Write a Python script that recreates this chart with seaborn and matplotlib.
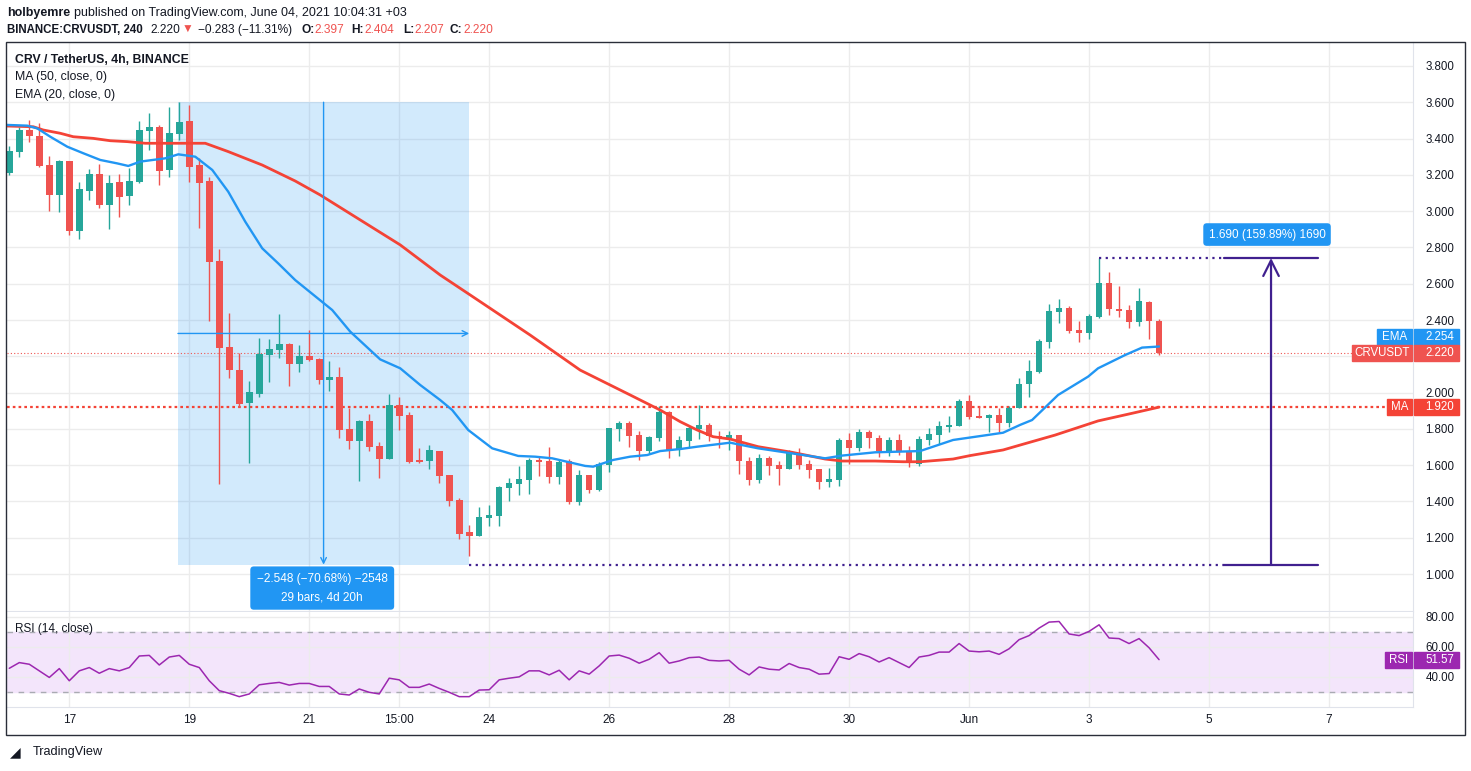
import numpy as np
import pandas as pd
import seaborn as sns
import matplotlib.pyplot as plt
from matplotlib.patches import Rectangle

sns.set_style("white")
plt.rcParams['font.family'] = ['Liberation Sans', 'DejaVu Sans']
plt.rcParams['text.color'] = '#131722'

# CRV/USDT 4h candles, bar 0 = 16 May 00:00
opens = [3.212, 3.328, 3.447, 3.414, 3.254, 3.089, 3.276, 2.891, 3.111, 3.205,
         3.034, 3.161, 3.085, 3.162, 3.443, 3.464, 3.229, 3.425, 3.497, 3.254,
         3.166, 2.725, 2.251, 2.124, 1.944, 1.992, 2.207, 2.235, 2.268, 2.157,
         2.201, 2.185, 2.069, 2.086, 1.799, 1.735, 1.843, 1.706, 1.634, 1.931,
         1.876, 1.628, 1.625, 1.678, 1.546, 1.408, 1.232, 1.212, 1.311, 1.322,
         1.476, 1.498, 1.520, 1.629, 1.623, 1.537, 1.623, 1.399, 1.546, 1.463,
         1.601, 1.801, 1.834, 1.767, 1.680, 1.748, 1.895, 1.684, 1.735, 1.801,
         1.822, 1.761, 1.748, 1.766, 1.623, 1.519, 1.642, 1.601, 1.579, 1.669,
         1.607, 1.579, 1.509, 1.519, 1.739, 1.697, 1.781, 1.752, 1.680, 1.739,
         1.678, 1.607, 1.739, 1.766, 1.809, 1.818, 1.954, 1.871, 1.858, 1.877,
         1.834, 1.913, 2.046, 2.115, 2.281, 2.446, 2.466, 2.343, 2.330, 2.419,
         2.602, 2.461, 2.455, 2.391, 2.499, 2.397]
highs = [3.359, 3.464, 3.502, 3.484, 3.304, 3.282, 3.276, 3.159, 3.232, 3.258,
         3.199, 3.205, 3.236, 3.497, 3.539, 3.475, 3.572, 3.600, 3.585, 3.291,
         3.190, 2.791, 2.437, 2.216, 2.064, 2.299, 2.295, 2.433, 2.271, 2.262,
         2.345, 2.189, 2.174, 2.143, 1.917, 1.849, 1.882, 1.728, 1.992, 1.976,
         1.895, 1.696, 1.711, 1.678, 1.546, 1.417, 1.270, 1.371, 1.381, 1.485,
         1.529, 1.596, 1.638, 1.643, 1.700, 1.629, 1.634, 1.573, 1.546, 1.619,
         1.807, 1.845, 1.845, 1.789, 1.763, 1.926, 1.899, 1.763, 1.816, 1.932,
         1.831, 1.789, 1.789, 1.766, 1.643, 1.660, 1.651, 1.623, 1.684, 1.697,
         1.629, 1.579, 1.586, 1.748, 1.776, 1.798, 1.794, 1.766, 1.757, 1.772,
         1.706, 1.761, 1.807, 1.844, 1.871, 1.965, 1.987, 1.926, 1.880, 1.913,
         1.926, 2.079, 2.180, 2.294, 2.488, 2.516, 2.477, 2.395, 2.431, 2.742,
         2.667, 2.588, 2.483, 2.578, 2.505, 2.404]
lows = [3.199, 3.296, 3.383, 3.245, 3.001, 2.993, 2.868, 2.846, 3.061, 3.019,
        2.902, 2.969, 3.034, 3.153, 3.337, 3.144, 3.190, 3.392, 3.162, 2.905,
        2.396, 1.494, 2.079, 1.922, 1.614, 1.978, 2.060, 2.192, 2.038, 2.115,
        2.176, 2.047, 2.009, 1.751, 1.689, 1.514, 1.680, 1.531, 1.634, 1.794,
        1.614, 1.614, 1.579, 1.503, 1.377, 1.193, 1.100, 1.212, 1.267, 1.267,
        1.404, 1.436, 1.443, 1.542, 1.504, 1.498, 1.388, 1.382, 1.449, 1.458,
        1.564, 1.735, 1.702, 1.629, 1.660, 1.735, 1.642, 1.653, 1.702, 1.743,
        1.735, 1.693, 1.684, 1.552, 1.491, 1.504, 1.546, 1.491, 1.579, 1.579,
        1.531, 1.469, 1.482, 1.487, 1.607, 1.680, 1.697, 1.647, 1.653, 1.656,
        1.592, 1.597, 1.711, 1.717, 1.785, 1.818, 1.853, 1.858, 1.781, 1.781,
        1.812, 1.913, 1.978, 2.106, 2.248, 2.385, 2.330, 2.281, 2.294, 2.413,
        2.428, 2.419, 2.358, 2.367, 2.294, 2.207]
closes = [3.331, 3.447, 3.416, 3.249, 3.089, 3.276, 2.891, 3.120, 3.205, 3.034,
          3.155, 3.078, 3.166, 3.447, 3.464, 3.221, 3.429, 3.489, 3.245, 3.157,
          2.722, 2.248, 2.124, 1.937, 2.005, 2.213, 2.240, 2.268, 2.158, 2.201,
          2.179, 2.069, 2.086, 1.794, 1.735, 1.843, 1.702, 1.634, 1.931, 1.871,
          1.619, 1.617, 1.683, 1.542, 1.404, 1.221, 1.212, 1.314, 1.326, 1.480,
          1.502, 1.524, 1.629, 1.619, 1.537, 1.618, 1.399, 1.546, 1.463, 1.605,
          1.807, 1.834, 1.763, 1.680, 1.757, 1.891, 1.684, 1.739, 1.807, 1.822,
          1.763, 1.748, 1.767, 1.625, 1.519, 1.642, 1.596, 1.579, 1.678, 1.601,
          1.574, 1.509, 1.524, 1.739, 1.697, 1.781, 1.748, 1.680, 1.739, 1.671,
          1.610, 1.744, 1.772, 1.816, 1.822, 1.954, 1.867, 1.862, 1.877, 1.834,
          1.913, 2.046, 2.119, 2.284, 2.450, 2.466, 2.340, 2.330, 2.422, 2.602,
          2.459, 2.452, 2.391, 2.505, 2.397, 2.220]

rsi_vals = [45.8, 49.6, 48.5, 44.1, 39.7, 45.6, 37.5, 44.1, 46.3, 42.5,
            45.6, 44.1, 46.3, 54.0, 54.4, 48.0, 53.3, 54.4, 48.5, 46.3,
            37.5, 30.9, 29.1, 26.9, 28.7, 34.8, 35.7, 36.4, 34.6, 35.7,
            35.7, 33.7, 33.7, 28.7, 28.0, 32.0, 29.8, 28.7, 39.2, 38.1,
            33.1, 33.1, 35.3, 32.4, 29.8, 26.9, 26.9, 31.3, 31.5, 38.1,
            39.2, 40.1, 44.1, 44.1, 41.4, 44.5, 38.1, 44.1, 41.9, 47.4,
            54.0, 54.6, 52.5, 49.2, 51.8, 56.2, 49.2, 50.7, 52.9, 53.3,
            51.1, 50.7, 51.1, 45.2, 41.4, 46.7, 45.2, 44.7, 49.0, 46.3,
            45.2, 41.9, 42.3, 53.5, 51.8, 55.6, 53.5, 50.0, 52.9, 49.6,
            46.3, 53.3, 54.4, 56.6, 56.6, 62.3, 57.3, 56.8, 57.3, 55.1,
            58.8, 64.9, 67.6, 72.6, 76.6, 77.0, 68.7, 67.6, 70.4, 74.8,
            66.0, 65.6, 62.3, 65.6, 59.5, 51.57]

# MA(50) and EMA(20) at bar positions
ma_idx = [-0.23, 2.4, 3.4, 5.1, 6.4, 8.4, 10.1, 11.8, 13.6, 16.6, 19.6, 21.9, 23.6,
          25.3, 28.6, 31.1, 39.1, 43.1, 46.1, 52.1, 57.1, 62.1, 65.1, 67.1, 68.8,
          70.4, 72.1, 74.9, 78.3, 81.6, 83.3, 86.6, 89.4, 91.1, 94.4, 96.1, 99.4,
          101.1, 104.6, 108.9, 112.3, 115]
ma_vals = [3.469, 3.465, 3.447, 3.429, 3.410, 3.401, 3.388, 3.383, 3.374, 3.374,
           3.374, 3.328, 3.291, 3.254, 3.166, 3.089, 2.814, 2.648, 2.538, 2.317,
           2.124, 1.987, 1.904, 1.840, 1.794, 1.757, 1.744, 1.702, 1.671, 1.634,
           1.623, 1.623, 1.619, 1.619, 1.634, 1.653, 1.684, 1.711, 1.766, 1.844,
           1.886, 1.920]
ema_idx = [-0.23, 1.8, 2.8, 4.1, 5.8, 7.4, 9.1, 10.8, 11.9, 13.1, 15.6, 16.9, 18.6,
           20.3, 21.9, 23.6, 25.3, 26.9, 28.6, 32.3, 34.1, 37.1, 39.1, 41.1, 43.1,
           44.3, 45.9, 48.3, 50.9, 52.6, 54.3, 57.6, 58.4, 60.4, 62.1, 63.8, 65.1,
           67.1, 68.8, 72.1, 74.9, 78.3, 81.6, 83.3, 86.6, 91.1, 94.4, 97.8, 99.4,
           101.1, 102.3, 104.9, 107.9, 108.9, 111.6, 113.3, 115]
ema_vals = [3.475, 3.471, 3.456, 3.410, 3.355, 3.319, 3.282, 3.263, 3.249, 3.273,
            3.291, 3.313, 3.300, 3.227, 3.107, 2.942, 2.795, 2.712, 2.620, 2.455,
            2.336, 2.183, 2.134, 2.042, 1.959, 1.904, 1.794, 1.693, 1.651, 1.647,
            1.638, 1.596, 1.592, 1.629, 1.647, 1.656, 1.678, 1.689, 1.702, 1.724,
            1.693, 1.665, 1.638, 1.653, 1.671, 1.678, 1.739, 1.766, 1.779, 1.822,
            1.849, 1.987, 2.088, 2.134, 2.207, 2.248, 2.254]

tick_pos = [6, 18, 30, 39, 48, 60, 72, 84, 96, 108, 120, 132]
tick_labels = ['17', '19', '21', '15:00', '24', '26', '28', '30', 'Jun', '3', '5', '7']
price_ticks = np.arange(1.0, 3.81, 0.2)

# drawing tools on the chart
meas_start, meas_end = 16.87, 46
meas_top, meas_bottom = 3.600, 1.052
range_top = 2.742

df = pd.DataFrame({'open': opens, 'high': highs, 'low': lows, 'close': closes})
df['bar'] = np.arange(len(df))
green, red = '#26a69a', '#ef5350'
df['color'] = np.where(df['close'] >= df['open'], green, red)

W, H = 1471, 771
fig = plt.figure(figsize=(W / 100, H / 100), dpi=100)
ax = fig.add_axes([7 / W, 1 - 611 / H, 1406 / W, 569 / H])
ax_rsi = fig.add_axes([7 / W, 1 - 707 / H, 1406 / W, 95 / H], sharex=ax)


def fx(p):
    return (p - 7) / 1406


# candles
ax.vlines(df['bar'], df['low'], df['high'], colors=df['color'], lw=1, zorder=3)
body = (df['close'] - df['open']).abs().clip(lower=0.006)
ax.bar(df['bar'], body, bottom=df[['open', 'close']].min(axis=1), width=0.66,
       color=df['color'], linewidth=0, zorder=4)

sns.lineplot(x=ma_idx, y=ma_vals, ax=ax, color='#f44336', lw=2, zorder=5)
sns.lineplot(x=ema_idx, y=ema_vals, ax=ax, color='#2196f3', lw=1.7, zorder=5)

ax.axhline(closes[-1], color=red, lw=0.8, ls=(0, (1, 2)), zorder=2)
ax.axhline(ma_vals[-1], color='#f44336', lw=1.6, ls=(0, (1.2, 1.4)), zorder=2)

# measure box
ax.add_patch(Rectangle((meas_start, meas_bottom), meas_end - meas_start, meas_top - meas_bottom,
                       fc='#2196f3', alpha=0.2, ec='none', zorder=1))
mid_x = (meas_start + meas_end) / 2
mid_y = (meas_top + meas_bottom) / 2
ax.annotate('', xy=(mid_x, meas_bottom), xytext=(mid_x, meas_top),
            arrowprops=dict(arrowstyle='->', color='#2196f3', lw=1, shrinkA=0, shrinkB=0), zorder=6)
ax.annotate('', xy=(meas_end, mid_y), xytext=(meas_start, mid_y),
            arrowprops=dict(arrowstyle='->', color='#2196f3', lw=1, shrinkA=0, shrinkB=0), zorder=6)
ax.text(31.3, 0.923, '\u22122.548 (\u221270.68%) \u22122548\n29 bars, 4d 20h', ha='center', va='center',
        color='white', fontsize=8.5, linespacing=1.7, zorder=7,
        bbox=dict(boxstyle='round,pad=0.55,rounding_size=0.3', fc='#2196f3', ec='none'))

# price range tool
purple = '#40208f'
ax.plot([meas_end, 121.5], [meas_bottom, meas_bottom], color=purple, lw=1.6, ls=(0, (1, 2)), zorder=6)
ax.plot([109, 121.5], [range_top, range_top], color=purple, lw=1.6, ls=(0, (1, 2)), zorder=6)
ax.plot([121.5, 130.9], [range_top, range_top], color=purple, lw=1.6, zorder=6)
ax.plot([121.5, 130.9], [meas_bottom, meas_bottom], color=purple, lw=1.6, zorder=6)
ax.annotate('', xy=(126.2, range_top), xytext=(126.2, meas_bottom),
            arrowprops=dict(arrowstyle='->', color=purple, lw=1.6, mutation_scale=28,
                            shrinkA=0, shrinkB=0), zorder=6)
ax.text(125.8, 2.871, '1.690 (159.89%) 1690', ha='center', va='center', color='white',
        fontsize=8.5, zorder=7,
        bbox=dict(boxstyle='round,pad=0.45,rounding_size=0.3', fc='#2196f3', ec='none'))

# axes styling
grid_c = '#ececec'
for a in (ax, ax_rsi):
    a.grid(True, color=grid_c, lw=1)
    a.yaxis.tick_right()
    a.tick_params(axis='y', length=0, pad=9, labelsize=8.3, labelcolor='#131722')
    a.set_xlabel('')
    a.set_ylabel('')
    for s in ('top', 'left'):
        a.spines[s].set_visible(False)
    for s in ('right', 'bottom'):
        a.spines[s].set_color('#e0e3eb')

ax.set_xlim(-0.23, 140.4)
ax.set_ylim(0.7966, 3.932)
ax.set_yticks(price_ticks)
# the 2.200 label sits under the last-price tag, as on the original
ax.set_yticklabels(['' if abs(v - closes[-1]) < 0.05 else f'{v:.3f}' for v in price_ticks])
ax.set_xticks(tick_pos)
ax.tick_params(axis='x', length=0, labelbottom=False)

ax.text(fx(15), 0.968, 'CRV / TetherUS, 4h, BINANCE', transform=ax.transAxes, fontsize=8.8,
        fontweight='bold', va='center')
ax.text(fx(15), 0.939, 'MA (50, close, 0)', transform=ax.transAxes, fontsize=8.8, va='center')
ax.text(fx(15), 0.907, 'EMA (20, close, 0)', transform=ax.transAxes, fontsize=8.8, va='center')

# RSI panel
ax_rsi.axhspan(30, 70, color='#f3e5fb', zorder=0)
for lvl in (30, 70):
    ax_rsi.axhline(lvl, color='#a9abb2', lw=1, ls=(0, (4, 4)), zorder=1)
sns.lineplot(x=df['bar'], y=rsi_vals, ax=ax_rsi, color='#9c27b0', lw=1.1, zorder=3)
ax_rsi.set_ylim(20, 83.33)
ax_rsi.set_yticks([40, 60, 80])
ax_rsi.set_yticklabels(['40.00', '60.00', '80.00'])
ax_rsi.set_xticks(tick_pos)
ax_rsi.set_xticklabels(tick_labels)
ax_rsi.tick_params(axis='x', length=0, pad=5, labelsize=8.5, labelcolor='#131722')
ax_rsi.set_xlabel('')
ax_rsi.set_ylabel('')
ax_rsi.text(fx(15), 0.821, 'RSI (14, close)', transform=ax_rsi.transAxes, fontsize=8.5, va='center')


def price_tag(axis, y, name, value, color, name_left, h):
    tr = axis.get_yaxis_transform()
    axis.add_patch(Rectangle((fx(name_left), y - h / 2), fx(1412) - fx(name_left), h,
                             transform=tr, color=color, clip_on=False, zorder=8))
    axis.add_patch(Rectangle((fx(1414), y - h / 2), fx(1459) - fx(1414), h,
                             transform=tr, color=color, clip_on=False, zorder=8))
    axis.text(fx((name_left + 1412) / 2), y, name, ha='center', va='center', color='white',
              fontsize=8.3, transform=tr, clip_on=False, zorder=9)
    axis.text(fx(1425), y, value, ha='left', va='center', color='white',
              fontsize=8.3, transform=tr, clip_on=False, zorder=9)


price_tag(ax, ema_vals[-1] + 0.052, 'EMA', f'{ema_vals[-1]:.3f}', '#2196f3', 1377, 0.088)
price_tag(ax, closes[-1], 'CRVUSDT', f'{closes[-1]:.3f}', red, 1352, 0.088)
price_tag(ax, ma_vals[-1], 'MA', f'{ma_vals[-1]:.3f}', '#f44336', 1387, 0.088)
price_tag(ax_rsi, rsi_vals[-1], 'RSI', f'{rsi_vals[-1]:.2f}', '#9c27b0', 1385, 10.7)

# header
def header(xp, yp, s, color='#131722', bold=False, size=9.0):
    fig.text(xp / W, 1 - yp / H, s, color=color, fontsize=size,
             fontweight='bold' if bold else 'normal', va='center', ha='left')


header(7, 13, 'holbyemre', bold=True)
header(74, 13, 'published on TradingView.com, June 04, 2021 10:04:31 +03')
header(7, 30, 'BINANCE:CRVUSDT, 240', bold=True, size=8.3)
header(150, 30, '2.220', size=8.6)
header(182, 30, '\u25bc', color=red, size=8.6)
header(198, 30, '\u22120.283 (\u221211.31%)', size=8.6)
header(301, 30, 'O:', bold=True, size=8.6)
header(314, 30, '2.397', color=red, size=8.6)
header(351, 30, 'H:', bold=True, size=8.6)
header(364, 30, '2.404', color=red, size=8.6)
header(403, 30, 'L:', bold=True, size=8.6)
header(414, 30, '2.207', color=red, size=8.6)
header(450, 30, 'C:', bold=True, size=8.6)
header(463, 30, '2.220', color=red, size=8.6)

fig.text(33 / W, 1 - 752 / H, 'TradingView', fontsize=9.2, va='center', ha='left')
fig.text(10 / W, 1 - 752 / H, '\u25e2', fontsize=10, va='center', ha='left')

fig.add_artist(Rectangle((6 / W, 1 - 735 / H), 1459 / W, 693 / H, transform=fig.transFigure,
                         fill=False, ec='#2a2e39', lw=1))

fig.savefig('out.png', dpi=100)
